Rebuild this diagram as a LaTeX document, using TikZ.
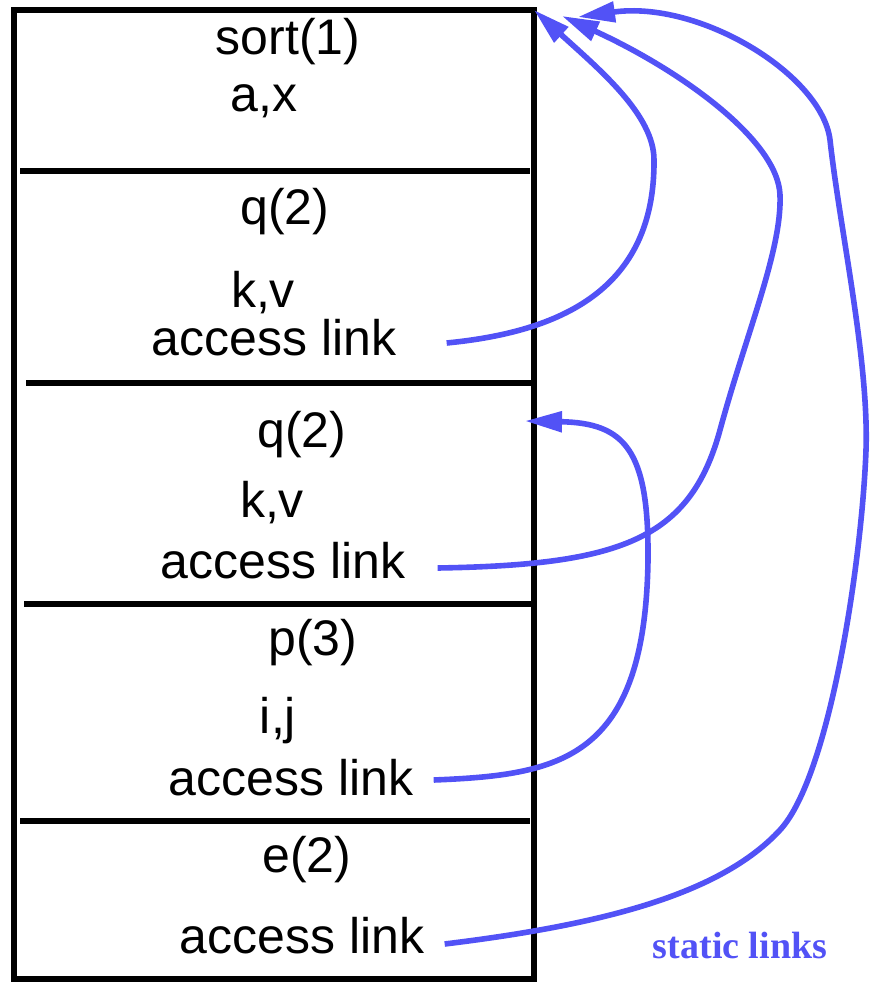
\documentclass[tikz,border=0pt]{standalone}
\usepackage{fontspec}
\setmainfont{Liberation Sans}
\newfontfamily\captionfont{Liberation Serif}
\usepackage{tikz}
\usetikzlibrary{calc,positioning,arrows.meta}
\definecolor{linkblue}{RGB}{82,82,246}

\begin{document}
\begin{tikzpicture}[x=0.5pt, y=-0.5pt,
    txt/.style={anchor=base, inner sep=0pt, font=\fontsize{25}{30}\selectfont},
    sep_line/.style={line width=2.6pt},
    link/.style={draw=linkblue, line width=2.8pt, -{Triangle[length=18.5pt, width=10pt]}}]
    \useasboundingbox (0,0) rectangle (871,984);

    \node [draw, line width=3pt, minimum width=260pt, minimum height=484.5pt, inner sep=0pt, outer sep=0pt] (stack) at (274,494.5) {};
    \draw[sep_line] (20,171) -- (530,171);
    \draw[sep_line] (26,383) -- (531,383);
    \draw[sep_line] (24,604) -- (531,604);
    \draw[sep_line] (20,821) -- (530,821);

    \node[txt] (sort_name) at (288,55) {sort(1)};
    \node[txt] (sort_vars) at (264,112) {a,x};

    \node[txt] (q1_name) at (285,225) {q(2)};
    \node[txt] (q1_vars) at (263,307) {k,v};
    \node[txt] (q1_link) at (274,355) {access link};

    \node[txt] (q2_name) at (302,447) {q(2)};
    \node[txt] (q2_vars) at (272,517) {k,v};
    \node[txt] (q2_link) at (283,578) {access link};

    \node[txt] (p_name) at (313,655) {p(3)};
    \node[txt] (p_vars) at (278,733) {i,j};
    \node[txt] (p_link) at (291,795) {access link};

    \node[txt] (e_name) at (307,872) {e(2)};
    \node[txt] (e_link) at (302,953) {access link};

    \node[anchor=base, inner sep=0pt, text=linkblue, font=\captionfont\bfseries\fontsize{19}{23}\selectfont] (caption) at (740,958) {static links};

    \coordinate (q2_top) at (525,421);
    \coordinate (sort_top_a) at (562,16);
    \coordinate (sort_top_b) at (578,17);

    \draw[link] ($(q1_link.base east)+(50,-12)$) .. controls (560,332) and (655,290) .. (654,160)
        .. controls (654,115) and (600,70) .. (stack.north east);
    \draw[link] ($(q2_link.base east)+(32,-10)$) .. controls (620,565) and (690,540) .. (720,430)
        .. controls (747,331) and (782,250) .. (780,195)
        .. controls (778,140) and (680,70) .. (sort_top_a);
    \draw[link] ($(p_link.base east)+(20,-15)$) .. controls (560,775) and (645,760) .. (648,560)
        .. controls (649,450) and (625,423) .. (q2_top);
    \draw[link] ($(e_link.base east)+(20,-9)$) .. controls (600,925) and (720,895) .. (780,830)
        .. controls (830,776) and (862,560) .. (866,450)
        .. controls (869,360) and (840,230) .. (830,140)
        .. controls (822,75) and (700,0) .. (sort_top_b);

\end{tikzpicture}
\end{document}
